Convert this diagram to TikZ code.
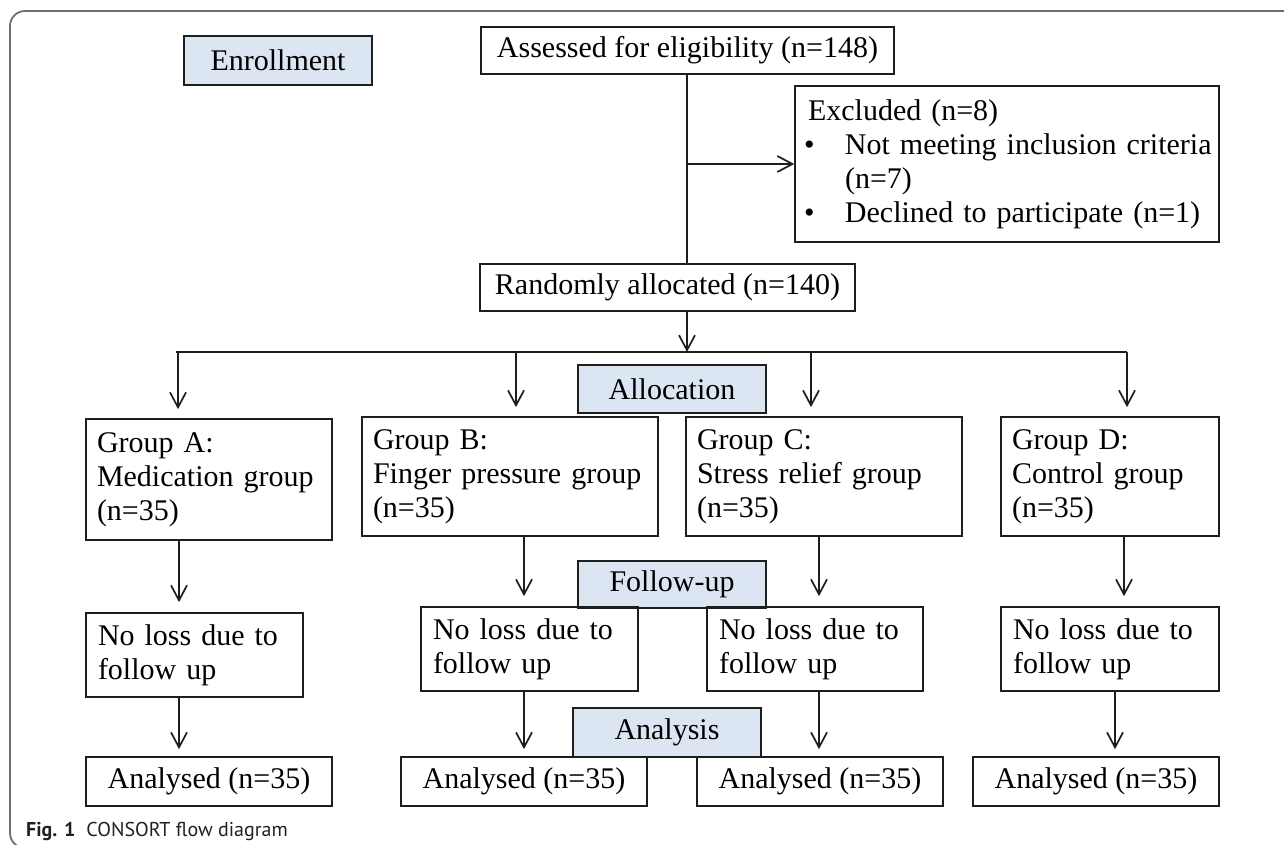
\documentclass[tikz,border=0pt]{standalone}
\usepackage{fontspec}
\setmainfont{Liberation Serif}
\newfontfamily\capfont{PT Sans}
\usetikzlibrary{arrows.meta}
\definecolor{lblfill}{HTML}{DCE6F2}
\definecolor{bordc}{HTML}{1E1E1E}
\definecolor{framec}{HTML}{6E6E6E}
\definecolor{capc}{HTML}{231F20}
\begin{document}
\begin{tikzpicture}[x=1pt,y=-1pt,
  font=\fontsize{30}{34}\selectfont,
  box/.style={draw=bordc, line width=1.7pt, inner sep=0pt, align=center},
  lbl/.style={box, fill=lblfill},
  lbox/.style={box, align=left, inner xsep=11pt},
  conn/.style={draw=bordc, line width=1.7pt},
  arr/.style={conn, -{Straight Barb[length=15pt,width=16pt]}},
  frame/.style={draw=framec, line width=1.8pt, rounded corners=15pt}
]
\useasboundingbox (0,0) rectangle (1284,845);
% frame
\draw[frame] (1300,11) -- (10,11) -- (10,848) -- (1300,848);

% enrollment stage
\node[lbl, minimum width=188pt, minimum height=49pt] (enr) at (278,60.5) {Enrollment};
\node[box, minimum width=413pt, minimum height=47pt] (as) at (687.5,50.5) {Assessed for eligibility (n=148)};
\node[lbox, inner xsep=13pt, text width=398pt, minimum height=156pt] (ex) at (1007,164)
  {Excluded (n=8)\\
   \mbox{\makebox[37pt][l]{\hspace{-4pt}\textbullet}Not meeting inclusion criteria}\\
   \hspace*{37pt}(n=7)\\
   \mbox{\makebox[37pt][l]{\hspace{-4pt}\textbullet}Declined to participate (n=1)}};
\node[box, minimum width=375pt, minimum height=47pt] (ra) at (667.5,287.5) {Randomly allocated (n=140)};

% allocation stage
\node[lbl, minimum width=188pt, minimum height=48pt] (alloc) at (672,389) {Allocation};
\node[lbox, text width=224pt, minimum height=121pt] (gA) at (209,479.5) {Group A:\\\mbox{Medication group}\\(n=35)};
\node[lbox, text width=274pt, minimum height=119pt] (gB) at (510,476.5) {Group B:\\\mbox{Finger pressure group}\\(n=35)};
\node[lbox, text width=254pt, minimum height=119pt] (gC) at (824,476.5) {Group C:\\\mbox{Stress relief group}\\(n=35)};
\node[lbox, text width=196pt, minimum height=119pt] (gD) at (1110,476.5) {Group D:\\\mbox{Control group}\\(n=35)};

% follow-up stage
\node[lbl, minimum width=188pt, minimum height=47pt] (fu) at (672,584.5) {Follow-up};
\node[lbox, inner xsep=12pt, text width=193pt, minimum height=84pt] (nlA) at (194.5,655) {\mbox{No loss due to}\\follow up};
\node[lbox, inner xsep=12pt, text width=193pt, minimum height=84pt] (nlB) at (529.5,649) {\mbox{No loss due to}\\follow up};
\node[lbox, inner xsep=12pt, text width=192pt, minimum height=84pt] (nlC) at (815,649) {\mbox{No loss due to}\\follow up};
\node[lbox, inner xsep=12pt, text width=194pt, minimum height=84pt] (nlD) at (1110,649) {\mbox{No loss due to}\\follow up};

% analysis stage
\node[lbl, minimum width=188pt, minimum height=49pt] (an) at (667,732.5) {Analysis};
\node[box, minimum width=246pt, minimum height=49pt] (aA) at (209,781.5) {Analysed (n=35)};
\node[box, minimum width=246pt, minimum height=49pt] (aB) at (524,781.5) {Analysed (n=35)};
\node[box, minimum width=246pt, minimum height=49pt] (aC) at (820,781.5) {Analysed (n=35)};
\node[box, minimum width=246pt, minimum height=49pt] (aD) at (1096,781.5) {Analysed (n=35)};

% caption
\node[anchor=base west, inner sep=0pt, text=capc, font=\capfont\fontsize{20}{24}\selectfont] (cap) at (26,836)
  {\textbf{Fig. 1}\hspace{0.55em}CONSORT flow diagram};

% helper coordinates
\coordinate (mx) at (687,0);
\coordinate (hlL) at (176,352);
\coordinate (hlR) at (1127,352);
\coordinate (tA) at (178,352);
\coordinate (tB) at (516,352);
\coordinate (tC) at (811,352);
\coordinate (tD) at (1127,352);
\coordinate (xa) at (179,0);
\coordinate (xb) at (524,0);
\coordinate (xc) at (819,0);
\coordinate (xd) at (1124,0);
\coordinate (xd2) at (1115,0);

% connectors
\draw[conn] (as.south -| mx) -- (ra.north -| mx);
\draw[arr] (mx |- ex.west) -- (ex.west);
\draw[arr] (ra.south -| mx) -- (mx |- hlL);
\draw[conn] (hlL) -- (hlR);
\draw[arr, shorten >=9pt] (tA) -- (tA |- gA.north);
\draw[arr, shorten >=9pt] (tB) -- (tB |- gB.north);
\draw[arr, shorten >=9pt] (tC) -- (tC |- gC.north);
\draw[arr, shorten >=9pt] (tD) -- (tD |- gD.north);

\draw[arr, shorten >=10pt] (gA.south -| xa) -- (nlA.north -| xa);
\draw[arr, shorten >=10pt] (gB.south -| xb) -- (nlB.north -| xb);
\draw[arr, shorten >=10pt] (gC.south -| xc) -- (nlC.north -| xc);
\draw[arr, shorten >=10pt] (gD.south -| xd) -- (nlD.north -| xd);

\draw[arr, shorten >=7pt] (nlA.south -| xa) -- (aA.north -| xa);
\draw[arr, shorten >=7pt] (nlB.south -| xb) -- (aB.north -| xb);
\draw[arr, shorten >=7pt] (nlC.south -| xc) -- (aC.north -| xc);
\draw[arr, shorten >=7pt] (nlD.south -| xd2) -- (aD.north -| xd2);
\end{tikzpicture}
\end{document}
